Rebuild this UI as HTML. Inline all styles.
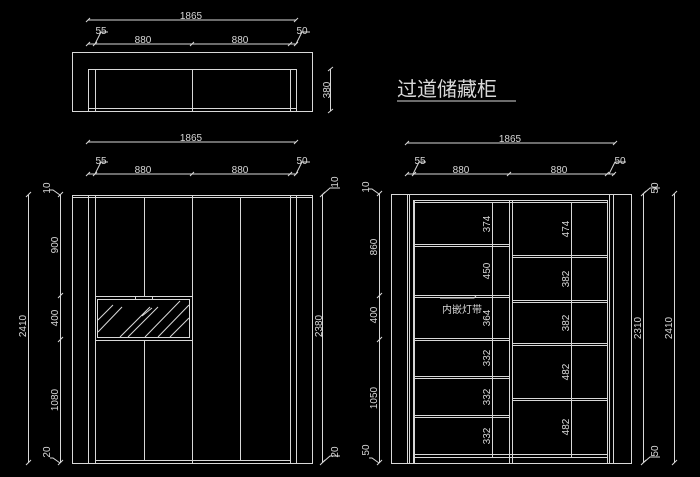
<!DOCTYPE html>
<html><head><meta charset="utf-8"><style>
html,body{margin:0;padding:0;background:#000;}
svg{display:block;}
text{font-family:"Liberation Sans","Noto Sans CJK SC",sans-serif;fill:#d8d8d8;font-size:10px;}
</style></head><body>
<svg width="700" height="477" viewBox="0 0 700 477" xmlns="http://www.w3.org/2000/svg">
<g stroke="#d8d8d8" stroke-width="1" fill="none">
<!-- top plan -->
<path d="M88 20H296M88 44H296"/>
<path d="M86 22L90 18M294 22L298 18M86 46L90 42M93 46L97 42M190 46L194 42M288 46L292 42M294 46L298 42"/>
<path d="M95 44L101 32H108M296 44L302 32H310"/>
<rect x="72.5" y="52.5" width="240" height="59"/>
<rect x="88.5" y="69.5" width="208" height="42"/>
<path d="M95.5 69V111M192.5 69V111M290.5 69V111M88 108.5H296"/>
<path d="M330.5 69V111M328 71L333 67M328 113L333 109"/>
<!-- left elevation -->
<path d="M88 142H296M88 174H296"/>
<path d="M86 144L90 140M294 144L298 140M86 176L90 172M93 176L97 172M190 176L194 172M288 176L292 172M294 176L298 172"/>
<path d="M95 174L101 162H108M296 174L302 162H310"/>
<rect x="72.5" y="195.5" width="240" height="268"/>
<path d="M72 197.5H312M88.5 195V463M95.5 195V463M192.5 195V463M290.5 195V463M296.5 195V463M144.5 197V296M144.5 340V461M240.5 197V461M95 460.5H290"/>
<rect x="95.5" y="296.5" width="97" height="44"/>
<rect x="97.5" y="299.5" width="92" height="38"/>
<rect x="135.5" y="296.5" width="17" height="3"/>
<path d="M98 320L113 305M98 332L122 307M120 337L150 307M128 337L158 307M145 337L180 301M158 337L189 305M170 337L189 318M142 316L152 308"/>
<path d="M28.5 195V463M60.5 195V463M322.5 195V463"/>
<path d="M26 197L31 192M26 465L31 460M58 197L63 192M58 298L63 293M58 342L63 337M58 465L63 460M320 197L325 192M320 465L325 460"/>
<path d="M60 195L53 190H50M60 463L53 458H50M322 195L330 188H340M322 463L330 456H340"/>
<!-- right elevation -->
<path d="M407 143H615M407 174H615"/>
<path d="M405 145L409 141M613 145L617 141M405 176L409 172M412 176L416 172M507 176L511 172M605 176L609 172M612 176L616 172"/>
<path d="M413 174L419 162H426M609 174L615 162H626"/>
<rect x="391.5" y="194.5" width="240" height="269"/>
<path d="M407.5 194V463M409.5 194V463M413.5 200V463M414.5 200V463M509.5 200V463M512.5 200V463M607.5 200V463M609.5 194V463M613.5 194V463M413 200.5H607M413 202.5H607"/>
<path d="M414 244.5H509M414 246.5H509M414 295.5H509M414 297.5H509M414 338.5H509M414 340.5H509M414 376.5H509M414 378.5H509M414 415.5H509M414 417.5H509M414 454.5H607M414 457.5H607"/>
<path d="M512 255.5H607M512 257.5H607M512 300.5H607M512 302.5H607M512 343.5H607M512 345.5H607M512 398.5H607M512 400.5H607"/>
<path d="M492.5 202V457M571.5 202V457"/>
<path d="M440 298H474L476 296"/>
<path d="M379.5 194V463M643.5 194V463M674.5 194V463"/>
<path d="M377 196L382 191M377 298L382 293M377 342L382 337M377 465L382 460M641 196L646 191M641 465L646 460M672 196L677 191M672 465L677 460"/>
<path d="M379 194L372 189H369M379 463L372 458H369M643 194L650 188H660M643 463L650 457H660"/>
<path d="M397 101H516"/>
</g>
<g text-anchor="middle">
<text x="191" y="19">1865</text>
<text x="143" y="43">880</text>
<text x="240" y="43">880</text>
<text x="101" y="34">55</text>
<text x="302" y="34">50</text>
<text x="191" y="141">1865</text>
<text x="143" y="173">880</text>
<text x="240" y="173">880</text>
<text x="101" y="164">55</text>
<text x="302" y="164">50</text>
<text x="510" y="142">1865</text>
<text x="461" y="173">880</text>
<text x="559" y="173">880</text>
<text x="420" y="164">55</text>
<text x="620" y="164">50</text>
<text transform="translate(330,90) rotate(-90)">380</text>
<text transform="translate(26,326) rotate(-90)">2410</text>
<text transform="translate(58,245) rotate(-90)">900</text>
<text transform="translate(58,318) rotate(-90)">400</text>
<text transform="translate(58,400) rotate(-90)">1080</text>
<text transform="translate(50,452) rotate(-90)">20</text>
<text transform="translate(50,188) rotate(-90)">10</text>
<text transform="translate(322,326) rotate(-90)">2380</text>
<text transform="translate(338,182) rotate(-90)">10</text>
<text transform="translate(338,452) rotate(-90)">20</text>
<text transform="translate(377,247) rotate(-90)">860</text>
<text transform="translate(377,315) rotate(-90)">400</text>
<text transform="translate(377,398) rotate(-90)">1050</text>
<text transform="translate(369,450) rotate(-90)">50</text>
<text transform="translate(369,187) rotate(-90)">10</text>
<text transform="translate(490,224) rotate(-90)">374</text>
<text transform="translate(490,271) rotate(-90)">450</text>
<text transform="translate(490,318) rotate(-90)">364</text>
<text transform="translate(490,358) rotate(-90)">332</text>
<text transform="translate(490,397) rotate(-90)">332</text>
<text transform="translate(490,436) rotate(-90)">332</text>
<text transform="translate(569,229) rotate(-90)">474</text>
<text transform="translate(569,279) rotate(-90)">382</text>
<text transform="translate(569,323) rotate(-90)">382</text>
<text transform="translate(569,372) rotate(-90)">482</text>
<text transform="translate(569,427) rotate(-90)">482</text>
<text transform="translate(641,328) rotate(-90)">2310</text>
<text transform="translate(672,328) rotate(-90)">2410</text>
<text transform="translate(658,188) rotate(-90)">50</text>
<text transform="translate(658,451) rotate(-90)">50</text>
</g>
<text x="442" y="313" style="font-size:10px">内嵌灯带</text>
<text x="397" y="96" style="font-size:20px">过道储藏柜</text>
</svg>
</body></html>
